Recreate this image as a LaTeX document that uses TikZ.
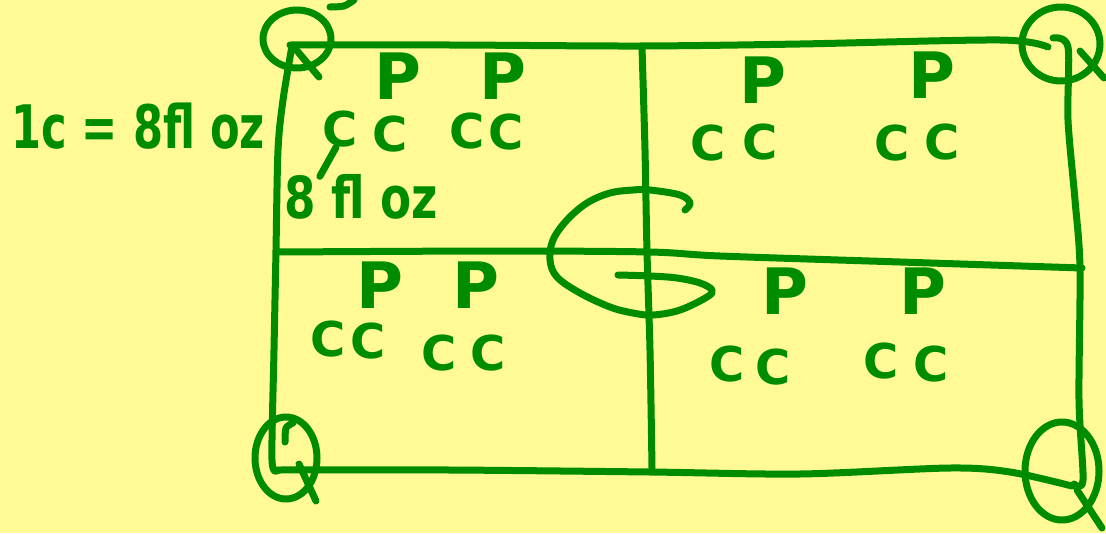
\documentclass[tikz,border=0pt]{standalone}
\usepackage{fontspec}
\usepackage{graphicx}
\newfontfamily\hand{DejaVu Sans Bold}
\definecolor{pen}{RGB}{0,140,0}
\definecolor{paper}{RGB}{255,250,150}
\tikzset{
  stroke/.style={draw=pen, line width=7pt, line cap=round, line join=round},
  cc/.style={text=pen, inner sep=0pt, font=\hand\fontsize{48}{48}\selectfont},
  pp/.style={text=pen, inner sep=0pt, font=\hand\fontsize{64}{64}\selectfont},
  lbl/.style={text=pen, inner sep=0pt},
}
\begin{document}
\begin{tikzpicture}[x=1pt,y=-1pt]
\fill[paper] (0,0) rectangle (1106,533);
\useasboundingbox (0,0) rectangle (1106,533);

% frame
\draw[stroke] plot[smooth, tension=0.5] coordinates {(290,45) (450,45) (640,46) (800,44) (1000,40) (1048,47)};
\draw[stroke] plot[smooth, tension=0.5] coordinates {(292,46) (283,100) (278,150) (276,250) (274,350) (272,460) (278,470)};
\draw[stroke] plot[smooth, tension=0.5] coordinates {(278,470) (450,470) (650,472) (800,474) (950,468) (1010,472) (1072,486)};
\draw[stroke] plot[smooth, tension=0.5] coordinates {(1053,38) (1068,47) (1068,120) (1075,200) (1080,268) (1079,400) (1083,480) (1074,484)};
% middle lines
\draw[stroke] plot[smooth, tension=0.5] coordinates {(278,252) (500,251) (650,252) (720,256) (900,262) (1082,268)};
\draw[stroke] plot[smooth, tension=0.5] coordinates {(642,47) (645,150) (647,252) (650,350) (652,468)};

% G
\draw[stroke] plot[smooth, tension=0.6] coordinates {(685,210) (690,203) (680,195) (650,190) (633,190) (610,193) (587,203) (567,220) (553,240) (550,260) (557,277) (580,293) (610,307) (633,313) (653,315) (680,310) (707,297) (712,290) (700,283) (677,278) (650,276) (618,275)};

% Q corners
\draw[stroke] (297,39) ellipse[x radius=34, y radius=29];
\draw[stroke] (293,46) -- (319,77);
\draw[stroke] plot[smooth] coordinates {(330,7) (344,6) (354,0)};

\draw[stroke] (1061,44) ellipse[x radius=39, y radius=37];
\draw[stroke] (1080,51) -- (1104,78);

\draw[stroke] (286,458) ellipse[x radius=31, y radius=41];
\draw[stroke] plot[smooth] coordinates {(285,442) (286,428) (293,423)};
\draw[stroke] (299,464) -- (316,501);

\draw[stroke] (1062,471) ellipse[x radius=37, y radius=49];
\draw[stroke] (1077,490) -- (1102,528);

% labels
\node[lbl] (eq) at (138,126) {\hand\fontsize{60}{60}\selectfont\scalebox{0.72}[1]{1c = 8fl oz}};
\node[lbl] (floz) at (361,197) {\hand\fontsize{58}{58}\selectfont\scalebox{0.78}[1]{8 fl oz}};

% top-left quadrant
\node[cc] (c1) at (340,129) {C};
\node[pp] (p1) at (398,76) {P};
\node[cc] (c2) at (390,134) {C};
\node[cc] (c3) at (467,131) {C};
\node[pp] (p2) at (503,76) {P};
\node[cc] (c4) at (506,132) {C};
\draw[stroke] ([xshift=-4pt]c1.south) -- ([xshift=36pt,yshift=-2pt]floz.north west);

% top-right quadrant
\node[cc] (c5) at (708,143) {C};
\node[pp] (p3) at (763,80) {P};
\node[cc] (c6) at (760,142) {C};
\node[cc] (c7) at (892,143) {C};
\node[pp] (p4) at (932,75) {P};
\node[cc] (c8) at (942,142) {C};

% bottom-left quadrant
\node[cc] (c9) at (328,339) {C};
\node[pp] (p5) at (380,285) {P};
\node[cc] (c10) at (368,341) {C};
\node[cc] (c11) at (439,353) {C};
\node[pp] (p6) at (476,285) {P};
\node[cc] (c12) at (488,353) {C};

% bottom-right quadrant
\node[cc] (c13) at (727,364) {C};
\node[pp] (p7) at (785,291) {P};
\node[cc] (c14) at (773,367) {C};
\node[cc] (c15) at (881,361) {C};
\node[pp] (p8) at (923,291) {P};
\node[cc] (c16) at (931,364) {C};
\end{tikzpicture}
\end{document}
